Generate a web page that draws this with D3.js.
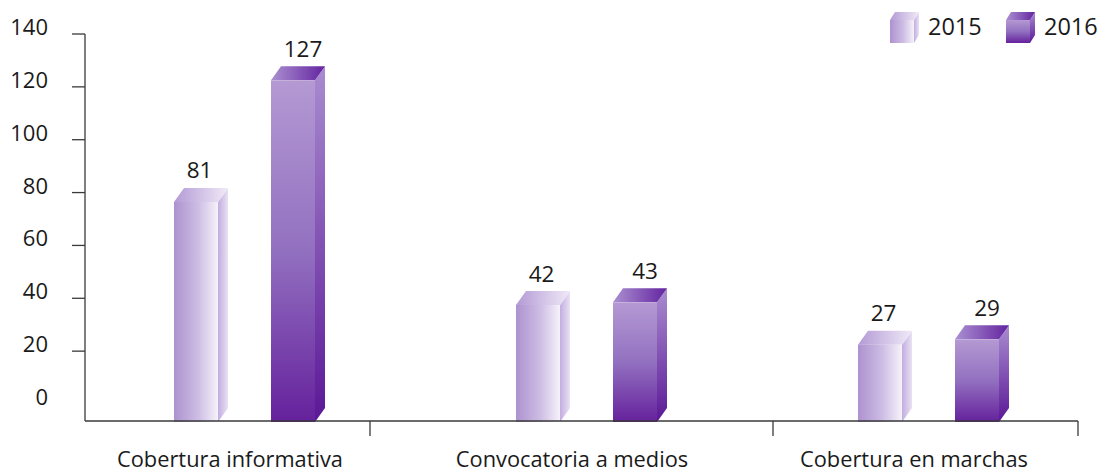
<!DOCTYPE html>
<html>
<head>
<meta charset="utf-8">
<script src="https://cdn.jsdelivr.net/npm/d3@7"></script>
<style>
  html, body { margin: 0; padding: 0; background: #ffffff; }
  svg { display: block; font-family: "Open Sans", "Noto Sans", sans-serif; }
</style>
</head>
<body>
<svg id="chart" width="1099" height="471"></svg>
<script>
// ---- data ----
const categories = ["Cobertura informativa", "Convocatoria a medios", "Cobertura en marchas"];
const seriesNames = ["2015", "2016"];
const values2015 = [81, 42, 27];
const values2016 = [127, 43, 29];
const yTickValues = [0, 20, 40, 60, 80, 100, 120, 140];

const seriesValues = [values2015, values2016];

// ---- layout ----
const axisX = 85, floorY = 421, axisRight = 1078;
const depthX = 10, depthY = 14;
const separatorsX = [370, 773];

const svg = d3.select("#chart");
const defs = svg.append("defs");

function grad(id, vertical, stops) {
  const g = defs.append("linearGradient").attr("id", id)
    .attr("x1", 0).attr("y1", 0)
    .attr("x2", vertical ? 0 : 1).attr("y2", vertical ? 1 : 0);
  stops.forEach(([o, c]) => g.append("stop").attr("offset", o).attr("stop-color", c));
}
grad("f0", false, [[0, "#ad92cf"], [0.55, "#cdbde4"], [1, "#f6f2fa"]]);
grad("s0", false, [[0, "#c2ade0"], [1, "#e9e1f3"]]);
grad("t0", false, [[0, "#b39ad5"], [1, "#f0eaf7"]]);
grad("f1", true, [[0, "#b499d3"], [0.5, "#9270c0"], [1, "#65219c"]]);
grad("s1", true, [[0, "#a98cd0"], [1, "#5b1896"]]);
grad("t1", false, [[0, "#ab90d2"], [1, "#63239f"]]);

// ---- scales ----
const y = d3.scaleLinear().domain([0, 140]).range([404, 34]);
const x0 = d3.scaleBand().domain(categories).range([78, 1104]).paddingInner(0).paddingOuter(0);
const x1 = d3.scaleBand().domain(seriesNames).range([-75, 66]).paddingInner(0.5464).paddingOuter(0);

// ---- bars ----
const rows = [];
categories.forEach((c, i) => {
  seriesNames.forEach((s, j) => {
    rows.push({ cat: c, series: s, si: j, value: seriesValues[j][i] });
  });
});

const bw = x1.bandwidth();
const barG = svg.append("g");
rows.forEach(d => {
  const xl = x0(d.cat) + x0.bandwidth() / 2 + x1(d.series);
  const xr = xl + bw;
  const top = y(d.value) + 12;
  const bottom = floorY + 1;
  const g = barG.append("g");
  g.append("path")
    .attr("d", `M${xr},${top} L${xr + depthX},${top - depthY} L${xr + depthX},${bottom - depthY} L${xr},${bottom} Z`)
    .attr("fill", `url(#s${d.si})`);
  g.append("path")
    .attr("d", `M${xl},${top} L${xl + depthX},${top - depthY} L${xr + depthX},${top - depthY} L${xr},${top} Z`)
    .attr("fill", `url(#t${d.si})`);
  g.append("rect")
    .attr("x", xl).attr("y", top)
    .attr("width", bw).attr("height", bottom - top)
    .attr("fill", `url(#f${d.si})`);
  g.append("text")
    .attr("x", xl + bw / 2 + (d.si === 0 ? 3.5 : 10))
    .attr("y", y(d.value) - 20)
    .attr("text-anchor", "middle")
    .attr("dominant-baseline", "central")
    .attr("font-size", 22.5)
    .attr("fill", "#1a1a1a")
    .text(d.value);
});

// ---- axes ----
const axisColor = "#3a3a3a";
svg.append("line")
  .attr("x1", axisX).attr("x2", axisX)
  .attr("y1", y(140)).attr("y2", floorY)
  .attr("stroke", axisColor).attr("stroke-width", 1.3);
svg.append("line")
  .attr("x1", axisX).attr("x2", axisRight)
  .attr("y1", floorY).attr("y2", floorY)
  .attr("stroke", axisColor).attr("stroke-width", 1.3);

const yTickG = svg.append("g");
yTickValues.forEach(v => {
  if (v > 0) {
    yTickG.append("line")
      .attr("x1", axisX - 13).attr("x2", axisX)
      .attr("y1", y(v)).attr("y2", y(v))
      .attr("stroke", axisColor).attr("stroke-width", 1.3);
  }
  yTickG.append("text")
    .attr("x", 48)
    .attr("y", y(v) - 8)
    .attr("text-anchor", "end")
    .attr("dominant-baseline", "central")
    .attr("font-size", 22)
    .attr("fill", "#1a1a1a")
    .text(v);
});

separatorsX.concat([axisRight]).forEach(sx => {
  svg.append("line")
    .attr("x1", sx).attr("x2", sx)
    .attr("y1", floorY).attr("y2", floorY + 15)
    .attr("stroke", axisColor).attr("stroke-width", 1.3);
});

categories.forEach(c => {
  svg.append("text")
    .attr("x", x0(c) + x0.bandwidth() / 2 - 19)
    .attr("y", 458)
    .attr("text-anchor", "middle")
    .attr("dominant-baseline", "central")
    .attr("font-size", 21.8)
    .attr("fill", "#1a1a1a")
    .text(c);
});

// ---- legend ----
const legendItems = [{ name: "2015", si: 0, x: 890 }, { name: "2016", si: 1, x: 1006 }];
legendItems.forEach(L => {
  const g = svg.append("g");
  const lw = 24, top = 20, bottom = 43, dx = 5, dy = 8;
  const xl = L.x, xr = L.x + lw;
  g.append("path").attr("d", `M${xr},${top} L${xr + dx},${top - dy} L${xr + dx},${bottom - dy} L${xr},${bottom} Z`).attr("fill", `url(#s${L.si})`);
  g.append("path").attr("d", `M${xl},${top} L${xl + dx},${top - dy} L${xr + dx},${top - dy} L${xr},${top} Z`).attr("fill", `url(#t${L.si})`);
  g.append("rect").attr("x", xl).attr("y", top).attr("width", lw).attr("height", bottom - top).attr("fill", `url(#f${L.si})`);
  g.append("text")
    .attr("x", xr + 14)
    .attr("y", 26)
    .attr("dominant-baseline", "central")
    .attr("font-size", 23.5)
    .attr("fill", "#1a1a1a")
    .text(L.name);
});
</script>
</body>
</html>
